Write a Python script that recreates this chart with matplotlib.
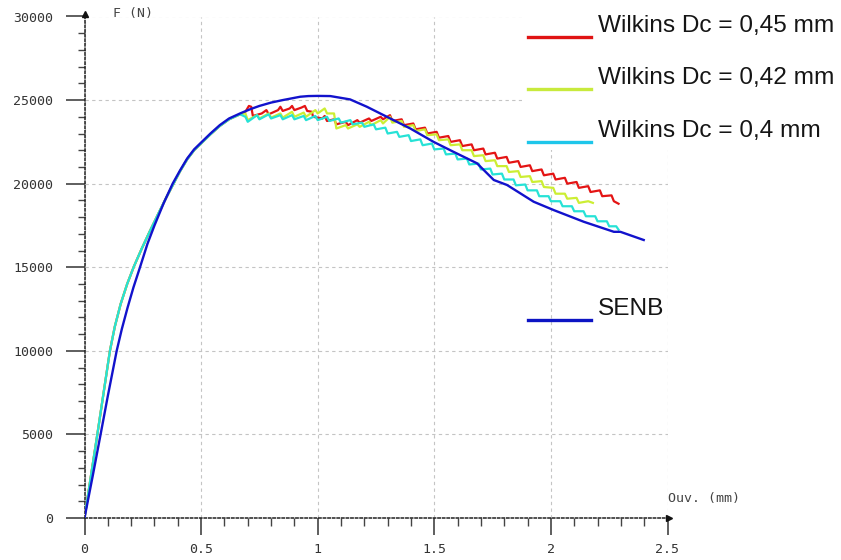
import matplotlib.pyplot as plt
from matplotlib.lines import Line2D
from matplotlib.patches import Rectangle
from matplotlib.ticker import MultipleLocator

# ouverture (mm) / force (N)
senb_x = [0, 0.035, 0.069, 0.10, 0.138, 0.16, 0.185, 0.21, 0.238, 0.27, 0.30, 0.34, 0.378, 0.41, 0.44,
          0.47, 0.503, 0.54, 0.58, 0.62, 0.667, 0.71, 0.75, 0.80, 0.85, 0.925, 0.96, 1.0, 1.054, 1.139,
          1.211, 1.311, 1.397, 1.497, 1.583, 1.683, 1.755, 1.812, 1.926, 2.012, 2.141, 2.27, 2.298, 2.398]
senb_f = [0, 2500, 5000, 7300, 10000, 11300, 12600, 13800, 15000, 16400, 17500, 18850, 20000, 20800, 21500,
          22050, 22500, 23000, 23500, 23900, 24200, 24450, 24650, 24850, 25000, 25200, 25240, 25250, 25240, 25040,
          24600, 23900, 23300, 22500, 21900, 21220, 20220, 19920, 18920, 18420, 17720, 17120, 17120, 16630]

w45_x = [0, 0.028, 0.055, 0.082, 0.109, 0.13, 0.155, 0.183, 0.212, 0.245, 0.28, 0.32, 0.35, 0.378, 0.41,
         0.44, 0.47, 0.503, 0.54, 0.58, 0.62, 0.667, 0.69, 0.705, 0.715,
         0.722, 0.76, 0.78, 0.79, 0.83, 0.84, 0.85, 0.88, 0.89, 0.90, 0.93, 0.945, 0.955, 0.975, 0.98,
         1.02, 1.03, 1.04, 1.07, 1.08, 1.12, 1.13, 1.17, 1.18, 1.22, 1.23, 1.27, 1.28, 1.31, 1.32, 1.36,
         1.37, 1.41, 1.42, 1.46, 1.47, 1.51, 1.52, 1.56, 1.57, 1.61, 1.62, 1.66, 1.67, 1.71, 1.72, 1.76,
         1.77, 1.81, 1.82, 1.86, 1.87, 1.91, 1.92, 1.96, 1.97, 2.01, 2.02, 2.06, 2.07, 2.11, 2.12, 2.16,
         2.17, 2.21, 2.22, 2.26, 2.27, 2.29]
w45_f = [0, 2550, 5000, 7500, 10000, 11450, 12800, 14000, 15050, 16100, 17150, 18300, 19150, 19900, 20750,
         21450, 22000, 22450, 22950, 23450, 23850, 24150, 24300, 24650, 24600,
         24050, 24200, 24400, 24150, 24400, 24600, 24350, 24500, 24650, 24400, 24550, 24650, 24350, 24300, 24000,
         23900, 24050, 23750, 23850, 23550, 23700, 23500, 23800, 23650, 23900, 23750, 24000, 23850, 24100, 23750, 23850,
         23500, 23600, 23250, 23350, 23000, 23100, 22750, 22850, 22500, 22600, 22250, 22350, 22000, 22100, 21750, 21850,
         21500, 21600, 21250, 21350, 21000, 21100, 20750, 20850, 20500, 20600, 20250, 20350, 20000, 20100, 19750, 19850,
         19500, 19600, 19250, 19300, 18950, 18800]

w42_x = [0, 0.028, 0.055, 0.082, 0.109, 0.13, 0.155, 0.183, 0.212, 0.245, 0.28, 0.32, 0.35, 0.378, 0.41,
         0.44, 0.47, 0.503, 0.54, 0.58, 0.62, 0.667, 0.69, 0.70, 0.74,
         0.75, 0.79, 0.80, 0.84, 0.85, 0.89, 0.90, 0.94, 0.95, 0.99, 1.00, 1.03, 1.04, 1.07, 1.08, 1.12,
         1.13, 1.17, 1.18, 1.22, 1.23, 1.27, 1.28, 1.31, 1.32, 1.36, 1.37, 1.41, 1.42, 1.46, 1.47, 1.51,
         1.52, 1.56, 1.57, 1.61, 1.62, 1.66, 1.67, 1.71, 1.72, 1.76, 1.77, 1.81, 1.82, 1.86, 1.87, 1.91,
         1.92, 1.96, 1.97, 2.01, 2.02, 2.06, 2.07, 2.11, 2.12, 2.16, 2.18]
w42_f = [0, 2550, 5000, 7500, 10000, 11450, 12800, 14000, 15050, 16100, 17150, 18300, 19150, 19900, 20750,
         21450, 22000, 22450, 22950, 23450, 23850, 24150, 24200, 23800, 24100,
         23900, 24200, 23950, 24200, 23950, 24300, 24000, 24250, 24000, 24400, 24200, 24500, 24200, 24200, 23300, 23500,
         23300, 23550, 23400, 23700, 23500, 23800, 23600, 24000, 23650, 23750, 23400, 23500, 23150, 23250, 22900, 22950,
         22600, 22650, 22300, 22350, 22000, 22000, 21650, 21700, 21350, 21400, 21050, 21050, 20700, 20750, 20400, 20450,
         20100, 20150, 19800, 19750, 19400, 19400, 19100, 19150, 18850, 18950, 18850]

w40_x = [0, 0.028, 0.055, 0.082, 0.109, 0.13, 0.155, 0.183, 0.212, 0.245, 0.28, 0.32, 0.35, 0.378, 0.41,
         0.44, 0.47, 0.503, 0.54, 0.58, 0.62, 0.667, 0.69, 0.70, 0.74,
         0.75, 0.79, 0.80, 0.84, 0.85, 0.89, 0.90, 0.94, 0.95, 0.99, 1.00, 1.04, 1.05, 1.09, 1.10, 1.14,
         1.15, 1.19, 1.20, 1.24, 1.25, 1.29, 1.30, 1.34, 1.35, 1.39, 1.40, 1.44, 1.45, 1.49, 1.50, 1.54,
         1.55, 1.59, 1.60, 1.64, 1.65, 1.69, 1.70, 1.74, 1.75, 1.79, 1.80, 1.84, 1.85, 1.89, 1.90, 1.94,
         1.95, 1.99, 2.00, 2.04, 2.05, 2.09, 2.10, 2.14, 2.15, 2.19, 2.20, 2.24, 2.25, 2.28, 2.29]
w40_f = [0, 2550, 5000, 7500, 10000, 11450, 12800, 14000, 15050, 16100, 17150, 18300, 19150, 19900, 20750,
         21450, 22000, 22450, 22950, 23450, 23850, 24150, 24000, 23700, 24100,
         23850, 24150, 23900, 24100, 23850, 24100, 23850, 24050, 23800, 24050, 23800, 24000, 23750, 23900, 23650, 23800,
         23550, 23650, 23400, 23550, 23250, 23350, 23000, 23100, 22800, 22900, 22550, 22650, 22300, 22400, 22050, 22100,
         21750, 21800, 21450, 21500, 21150, 21200, 20850, 20900, 20550, 20600, 20250, 20250, 19900, 19950, 19600, 19600,
         19250, 19250, 18950, 18950, 18650, 18650, 18350, 18350, 18050, 18050, 17750, 17750, 17450, 17450, 17250]

labels = ['Wilkins Dc = 0,45 mm', 'Wilkins Dc = 0,42 mm', 'Wilkins Dc = 0,4 mm', 'SENB']
line_colors = ['#e41414', '#ccee33', '#26e2d6', '#1212cc']
legend_colors = ['#e01414', '#c8ea3c', '#1ec6ea', '#0c14c4']

W, H = 841, 560
fig = plt.figure(figsize=(W / 100, H / 100), dpi=100)
ax = fig.add_axes([84.5 / W, 42 / H, 583 / W, 501.5 / H])

ax.plot(w45_x, w45_f, color=line_colors[0], lw=1.6, zorder=3)
ax.plot(w42_x, w42_f, color=line_colors[1], lw=1.6, zorder=4)
ax.plot(w40_x, w40_f, color=line_colors[2], lw=1.6, zorder=5)
ax.plot(senb_x, senb_f, color=line_colors[3], lw=1.7, zorder=6)

ax.set_xlim(0, 2.5)
ax.set_ylim(0, 30000)
ax.xaxis.set_major_locator(MultipleLocator(0.5))
ax.xaxis.set_minor_locator(MultipleLocator(0.1))
ax.yaxis.set_major_locator(MultipleLocator(5000))
ax.yaxis.set_minor_locator(MultipleLocator(1000))
ax.xaxis.set_major_formatter(lambda v, p: f'{v:g}')
ax.yaxis.set_major_formatter(lambda v, p: f'{v:.0f}')

ax.grid(True, which='major', color='#c4c4c4', lw=0.8, ls=(0, (3, 3)))
ax.set_axisbelow(True)

for s in ['top', 'right']:
    ax.spines[s].set_visible(False)
for s in ['left', 'bottom']:
    ax.spines[s].set_linestyle((0, (1.5, 1.5)))
    ax.spines[s].set_linewidth(1.1)
    ax.spines[s].set_color('#222222')

tick_font = dict(family='DejaVu Sans Mono', size=9.5)
ax.tick_params(axis='y', which='major', direction='out', length=13.5, width=1.1, color='#333333',
               pad=9, labelcolor='#333333')
ax.tick_params(axis='y', which='minor', direction='out', length=5, width=1.0, color='#444444')
ax.tick_params(axis='x', which='major', direction='out', length=12, width=1.1, color='#333333',
               pad=6, labelcolor='#333333')
ax.tick_params(axis='x', which='minor', direction='out', length=6, width=1.0, color='#444444')
for lab in ax.get_xticklabels() + ax.get_yticklabels():
    lab.set_fontfamily('DejaVu Sans Mono')
    lab.set_fontsize(9.5)

# arrow heads on the axes
ax.plot([0], [1.004], marker='^', ms=5, color='#111111', transform=ax.transAxes, clip_on=False, zorder=7)
ax.plot([1.002], [0], marker='>', ms=5, color='#111111', transform=ax.transAxes, clip_on=False, zorder=7)

ax.text(0.049, 1.005, 'F (N)', transform=ax.transAxes, ha='left', va='center',
        color='#444444', **tick_font)
ax.text(1.0, 0.038, 'Ouv. (mm)', transform=ax.transAxes, ha='left', va='center',
        color='#444444', **tick_font)

# legend, drawn by hand beside the plot
fig.add_artist(Rectangle((522 / W, 1 - 150 / H), 1 - 522 / W, 150 / H, transform=fig.transFigure,
                         facecolor='white', edgecolor='none', zorder=5))
rows = [37, 89, 142, 320]
for lab, col, ry in zip(labels, legend_colors, rows):
    fig.add_artist(Line2D([528 / W, 591 / W], [1 - ry / H, 1 - ry / H], transform=fig.transFigure,
                          color=col, lw=2.4, zorder=6))
    fig.text(598 / W, 1 - (ry - 11) / H, lab, ha='left', va='center', fontsize=17.6,
             family='Liberation Sans', color='#151515', zorder=7)

fig.savefig('out.png', dpi=100)
